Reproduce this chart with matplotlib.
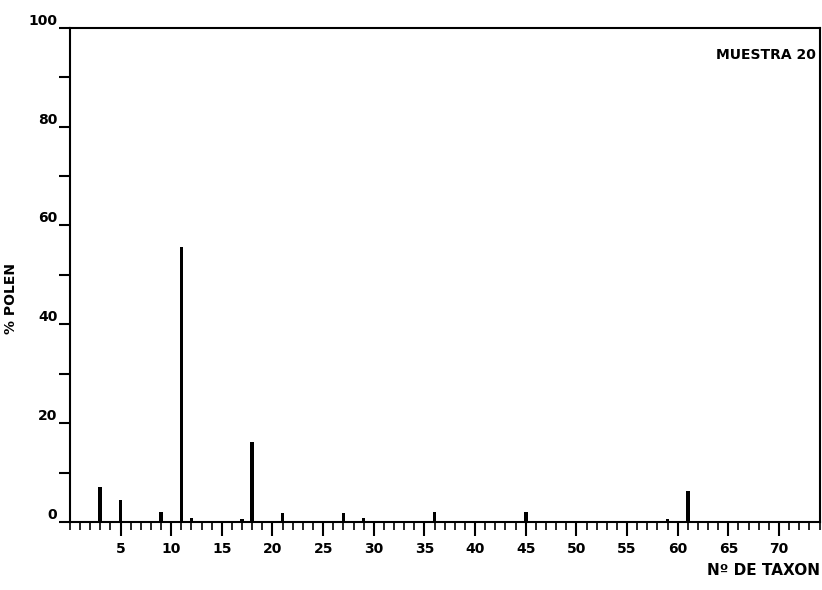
import matplotlib
matplotlib.use("Agg")
import matplotlib.pyplot as plt
from matplotlib.ticker import MultipleLocator

taxa = [3, 5, 9, 11, 12, 17, 18, 21, 27, 29, 36, 45, 59, 61]
pollen = [7.1, 4.5, 2.1, 55.7, 0.8, 0.7, 16.2, 1.8, 1.8, 0.8, 2.1, 2.0, 0.6, 6.4]
xticks = [5, 10, 15, 20, 25, 30, 35, 40, 45, 50, 55, 60, 65, 70]
yticks = [0, 20, 40, 60, 80, 100]

plt.rcParams['font.family'] = ['DejaVu Sans']
plt.rcParams['font.weight'] = 'bold'

fig = plt.figure(figsize=(8.22, 5.90), dpi=100)
ax = fig.add_axes([0.085, 0.115, 0.912, 0.838])

ax.bar(taxa, pollen, width=0.35, color='black')

ax.set_xlim(0, 74)
ax.set_ylim(0, 100)
ax.set_xticks(xticks)
ax.set_xticklabels([str(t) for t in xticks], fontsize=10, fontweight='bold')
ax.xaxis.set_minor_locator(MultipleLocator(1))
ax.set_yticks(yticks)
ax.set_yticklabels([str(t) for t in yticks], fontsize=10, fontweight='bold')
ax.yaxis.set_minor_locator(MultipleLocator(10))
for lbl in ax.get_yticklabels():
    lbl.set_verticalalignment('bottom')

ax.tick_params(axis='x', which='major', direction='out', length=10, width=1.5, pad=4)
ax.tick_params(axis='x', which='minor', direction='out', length=6, width=1.2)
ax.tick_params(axis='y', which='both', direction='out', length=8, width=1.5, pad=1)

for s in ax.spines.values():
    s.set_linewidth(1.5)

ax.set_ylabel('% POLEN', fontsize=10, fontweight='bold')
ax.yaxis.set_label_coords(-0.069, 0.453)
fig.text(0.997, 0.02, 'N\u00ba DE TAXON', ha='right', va='bottom', fontsize=11, fontweight='bold')
ax.text(0.995, 0.96, 'MUESTRA 20', transform=ax.transAxes, ha='right', va='top', fontsize=10, fontweight='bold')

fig.savefig('out.png', dpi=100)
